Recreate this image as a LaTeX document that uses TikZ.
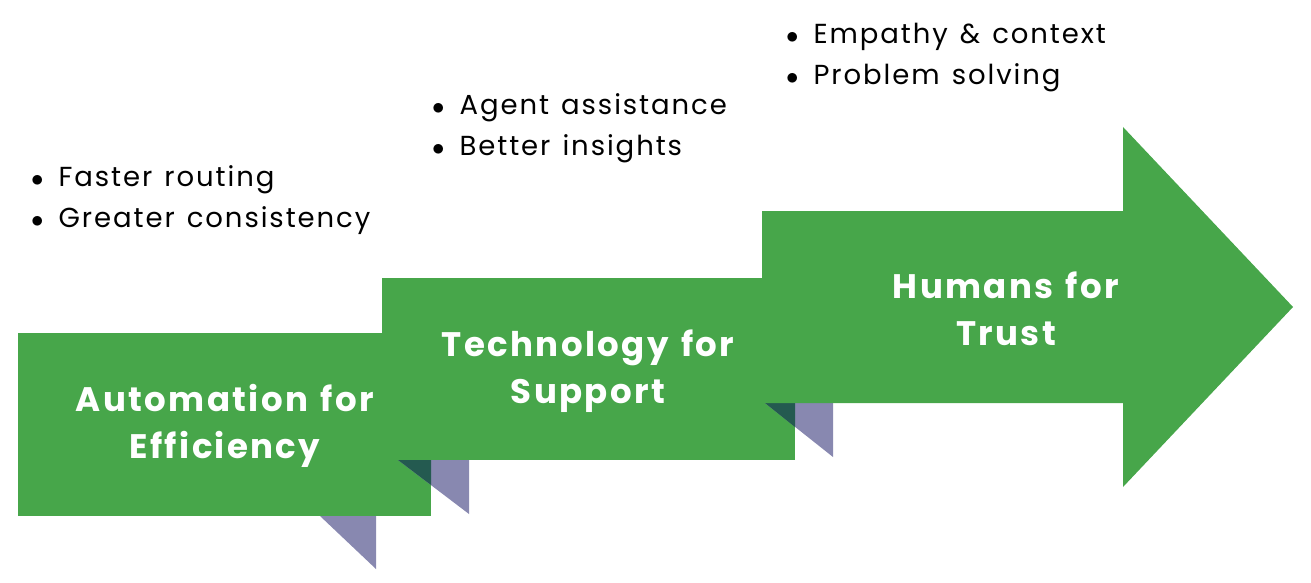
\documentclass[tikz,border=0pt]{standalone}
\usepackage{fontspec}
\setmainfont{Poppins}[LetterSpace=7,WordSpace=1.3]
\begin{document}
\begin{tikzpicture}[x=1pt,y=-1pt,
  title/.style={text=white, font=\fontsize{34}{47}\selectfont\bfseries, align=center},
  bl/.style={anchor=west, font=\fontsize{27.5}{41}\selectfont, align=left, inner sep=0pt}]
\definecolor{grn}{HTML}{47A64A}
\definecolor{purpleish}{HTML}{8888B0}
\definecolor{darkov}{HTML}{245A50}
\tikzset{gr/.style={fill=grn, draw=none}, pu/.style={fill=purpleish, draw=none}, dk/.style={fill=darkov, draw=none}}
\useasboundingbox (0,0) rectangle (1311,583);
\fill[pu] (320,516) -- (376,516) -- (376,569) -- cycle;
\fill[gr] (18,333) rectangle (431,516);
\fill[pu] (398,460) -- (469,460) -- (469,514) -- cycle;
\fill[dk] (398,460) -- (431,460) -- (431,485) -- cycle;
\fill[gr] (382,278) rectangle (795,460);
\fill[pu] (765,403) -- (833,403) -- (833,457) -- cycle;
\fill[dk] (765,403) -- (795,403) -- (795,427) -- cycle;
\fill[gr] (762,211) -- (1123,211) -- (1123,127) -- (1293,307) -- (1123,487) -- (1123,403) -- (762,403) -- cycle;
\node[title] (t1) at (225,426) {Automation for\\Efficiency};
\node[title] (t2) at (588,371) {Technology for\\Support};
\node[title] (t3) at (1006,309) {Humans for\\Trust};
\node[bl] (b1) at (31,200) {$\bullet$\hspace{15pt}Faster routing\\$\bullet$\hspace{15pt}Greater consistency};
\node[bl] (b2) at (432,128) {$\bullet$\hspace{15pt}Agent assistance\\$\bullet$\hspace{15pt}Better insights};
\node[bl] (b3) at (786,58) {$\bullet$\hspace{15pt}Empathy \& context\\$\bullet$\hspace{15pt}Problem solving};
\end{tikzpicture}
\end{document}
